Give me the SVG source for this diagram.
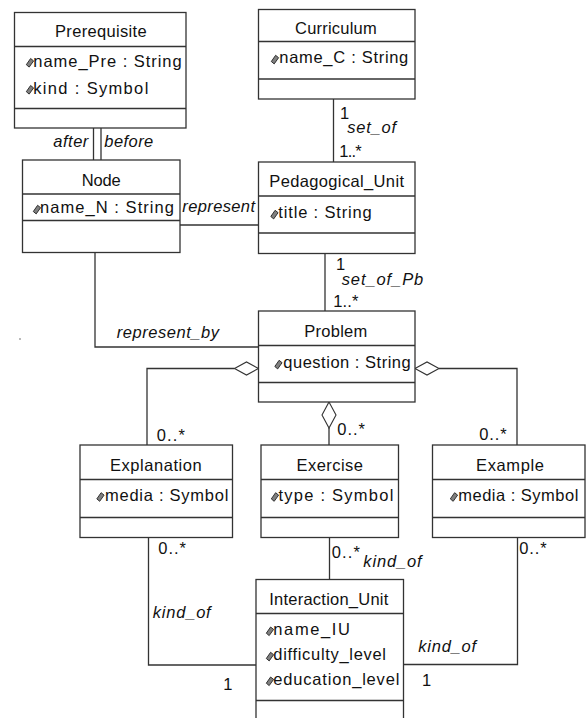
<svg xmlns="http://www.w3.org/2000/svg" xmlns:xlink="http://www.w3.org/1999/xlink" width="586" height="718" viewBox="0 0 586 718">
<style>
.box{fill:#fff;stroke:#333;stroke-width:1.3}
.div{stroke:#333;stroke-width:1.3}
.con{fill:none;stroke:#333;stroke-width:1.3}
.agg{fill:#fff;stroke:#333;stroke-width:1.1}
text{font-family:"Liberation Sans",Arial,sans-serif;font-size:16.5px;fill:#111}
.it{font-style:italic}
.ic{fill:#808080;stroke:#222;stroke-width:0.9}
</style>
<defs>
<polygon id="icon" class="ic" points="0.3,-1.8 4.6,-8 7.6,-5.6 3.2,0.6"/>
</defs>
<rect x="0" y="0" width="586" height="718" fill="#fff"/>
<rect x="19.5" y="338" width="1" height="2" fill="#777"/>

<g id="connectors">
<line class="con" x1="93.5" y1="128" x2="93.5" y2="160"/>
<line class="con" x1="101" y1="128" x2="101" y2="160"/>
<line class="con" x1="333.5" y1="99" x2="333.5" y2="162"/>
<line class="con" x1="180" y1="225" x2="258.5" y2="225"/>
<line class="con" x1="325" y1="253.5" x2="325" y2="311"/>
<polyline class="con" points="95,252.5 95,347 258.5,347"/>
<polyline class="con" points="234.5,368.5 147,368.5 147,445"/>
<polygon class="agg" points="258.5,368.5 246.5,362 234.5,368.5 246.5,375"/>
<line class="con" x1="329" y1="428" x2="329" y2="445"/>
<polygon class="agg" points="329,402 336,415 329,428 322,415"/>
<polyline class="con" points="439,368.5 517,368.5 517,445"/>
<polygon class="agg" points="415,368.5 427,362 439,368.5 427,375"/>
<polyline class="con" points="148.5,537.5 148.5,665 256,665"/>
<line class="con" x1="329.5" y1="537.5" x2="329.5" y2="579.5"/>
<polyline class="con" points="517.5,537.5 517.5,664.5 403.5,664.5"/>

<text class="it" x="53.3" y="146.7" textLength="35">after</text>
<text class="it" x="104.3" y="146.7" textLength="49">before</text>
<text class="it" x="182.3" y="212.3" textLength="72.7">represent</text>
<text x="340" y="119">1</text>
<text class="it" x="347.3" y="132.7" textLength="48.7">set_of</text>
<text x="339.3" y="156.7" textLength="22.4">1..*</text>
<text x="336" y="270">1</text>
<text class="it" x="341.7" y="285" textLength="81.6">set_of_Pb</text>
<text x="333.3" y="306.7" textLength="25">1..*</text>
<text class="it" x="116.7" y="338" textLength="102.3">represent_by</text>
<text x="156.7" y="441" textLength="28.3">0..*</text>
<text x="337.3" y="435" textLength="27.7">0..*</text>
<text x="479.3" y="440" textLength="27.4">0..*</text>
<text x="158.3" y="554" textLength="27.7">0..*</text>
<text x="331.7" y="558.3" textLength="28.3">0..*</text>
<text x="519.3" y="554" textLength="27.4">0..*</text>
<text class="it" x="363.3" y="567" textLength="58.4">kind_of</text>
<text class="it" x="152.7" y="618" textLength="58">kind_of</text>
<text class="it" x="418.3" y="651.7" textLength="57.7">kind_of</text>
<text x="223.3" y="690">1</text>
<text x="422" y="686">1</text>
</g>

<g id="prerequisite">
<rect class="box" x="14.5" y="12.5" width="171.5" height="115.5"/>
<line class="div" x1="14.5" y1="46.5" x2="186" y2="46.5"/>
<line class="div" x1="14.5" y1="108.5" x2="186" y2="108.5"/>
<text x="55" y="36.5" textLength="91.7">Prerequisite</text>
<use xlink:href="#icon" x="26" y="66.5"/>
<text x="33.3" y="66.5" textLength="148.4">name_Pre : String</text>
<use xlink:href="#icon" x="26" y="93.5"/>
<text x="33.3" y="93.5" textLength="115">kind : Symbol</text>
</g>

<g id="curriculum">
<rect class="box" x="258.5" y="9.5" width="156.5" height="89.5"/>
<line class="div" x1="258.5" y1="41.5" x2="415" y2="41.5"/>
<line class="div" x1="258.5" y1="79" x2="415" y2="79"/>
<text x="295" y="34.3" textLength="81.7">Curriculum</text>
<use xlink:href="#icon" x="271" y="63.3"/>
<text x="279.3" y="63.3" textLength="129">name_C : String</text>
</g>

<g id="node">
<rect class="box" x="22.5" y="160" width="157.5" height="92.5"/>
<line class="div" x1="22.5" y1="194" x2="180" y2="194"/>
<line class="div" x1="22.5" y1="220.5" x2="180" y2="220.5"/>
<text x="81.7" y="185.7" textLength="39">Node</text>
<use xlink:href="#icon" x="33" y="213.3"/>
<text x="40" y="213.3" textLength="134">name_N : String</text>
</g>

<g id="pedagogical_unit">
<rect class="box" x="258.5" y="162" width="156.5" height="91.5"/>
<line class="div" x1="258.5" y1="196" x2="415" y2="196"/>
<line class="div" x1="258.5" y1="233" x2="415" y2="233"/>
<text x="269.3" y="186.7" textLength="134.7">Pedagogical_Unit</text>
<use xlink:href="#icon" x="270.5" y="218.3"/>
<text x="278.3" y="218.3" textLength="93.4">title : String</text>
</g>

<g id="problem">
<rect class="box" x="258.5" y="311" width="156.5" height="91"/>
<line class="div" x1="258.5" y1="345.5" x2="415" y2="345.5"/>
<line class="div" x1="258.5" y1="382.5" x2="415" y2="382.5"/>
<text x="304.3" y="336.7" textLength="63">Problem</text>
<use xlink:href="#icon" x="274.5" y="368.3"/>
<text x="283.3" y="368.3" textLength="127.4">question : String</text>
</g>

<g id="explanation">
<rect class="box" x="80" y="445" width="152.5" height="92.5"/>
<line class="div" x1="80" y1="479.5" x2="232.5" y2="479.5"/>
<line class="div" x1="80" y1="517.5" x2="232.5" y2="517.5"/>
<text x="110" y="470.5" textLength="91.7">Explanation</text>
<use xlink:href="#icon" x="96.5" y="500.7"/>
<text x="105" y="500.7" textLength="123.3">media : Symbol</text>
</g>

<g id="exercise">
<rect class="box" x="261" y="445" width="137.5" height="92.5"/>
<line class="div" x1="261" y1="479.5" x2="398.5" y2="479.5"/>
<line class="div" x1="261" y1="517.5" x2="398.5" y2="517.5"/>
<text x="296.5" y="470.5" textLength="66.5">Exercise</text>
<use xlink:href="#icon" x="271" y="500.7"/>
<text x="278.4" y="500.7" textLength="115">type : Symbol</text>
</g>

<g id="example">
<rect class="box" x="432.5" y="445" width="152.5" height="92.5"/>
<line class="div" x1="432.5" y1="479.5" x2="585" y2="479.5"/>
<line class="div" x1="432.5" y1="517.5" x2="585" y2="517.5"/>
<text x="476" y="470.5" textLength="68">Example</text>
<use xlink:href="#icon" x="450" y="500.7"/>
<text x="458.3" y="500.7" textLength="120">media : Symbol</text>
</g>

<g id="interaction_unit">
<rect class="box" x="256" y="579.5" width="147.5" height="150"/>
<line class="div" x1="256" y1="613.5" x2="403.5" y2="613.5"/>
<line class="div" x1="256" y1="700.5" x2="403.5" y2="700.5"/>
<text x="269.3" y="605" textLength="119">Interaction_Unit</text>
<use xlink:href="#icon" x="266" y="635"/>
<text x="273.3" y="635" textLength="76.7">name_IU</text>
<use xlink:href="#icon" x="266" y="660.3"/>
<text x="273.3" y="660.3" textLength="112.7">difficulty_level</text>
<use xlink:href="#icon" x="266" y="685"/>
<text x="273.3" y="685" textLength="126">education_level</text>
</g>
</svg>
